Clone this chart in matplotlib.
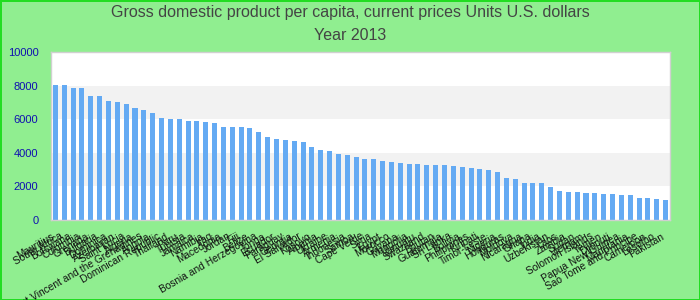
import matplotlib
matplotlib.use("Agg")
import matplotlib.pyplot as plt
import numpy as np

countries = [
    "Mauritius", "South Africa", "Botswana", "Colombia", "Grenada", "Bulgaria",
    "Dominica", "Azerbaijan", "Saint Lucia", "Algeria",
    "Saint Vincent and the Grenadines", "Angola", "Dominican Republic",
    "Thailand", "Peru", "Tunisia", "Jamaica", "Namibia", "Iraq", "Macedonia",
    "Jordan", "Fiji", "Belize", "Bosnia and Herzegovina", "Tonga", "Ecuador",
    "Paraguay", "Georgia", "El Salvador", "Kosovo", "Albania", "Ukraine",
    "Armenia", "Indonesia", "Samoa", "Cape Verde", "Syria", "Egypt",
    "Morocco", "Guyana", "Mongolia", "Vanuatu", "Swaziland", "Bhutan",
    "Guatemala", "Sri Lanka", "Bolivia", "Philippines", "Kiribati",
    "Timor-Leste", "Nigeria", "Honduras", "Moldova", "Nicaragua", "Ghana",
    "India", "Uzbekistan", "Laos", "Zambia", "Sudan", "Vietnam",
    "Solomon Islands", "Yemen", "Djibouti", "Papua New Guinea", "Mauritania",
    "Sao Tome and Principe", "Cameroon", "Lesotho", "Pakistan",
]

gdp_per_capita = [
    8019, 8019, 7841, 7841, 7366, 7366, 7069, 7009, 6890, 6653,
    6534, 6356, 6059, 5999, 5999, 5881, 5881, 5821, 5762, 5524,
    5524, 5524, 5465, 5227, 4930, 4811, 4752, 4693, 4633, 4336,
    4158, 4099, 3920, 3861, 3742, 3623, 3623, 3505, 3445, 3386,
    3326, 3326, 3267, 3267, 3267, 3208, 3148, 3089, 3029, 2970,
    2851, 2495, 2435, 2198, 2198, 2198, 1960, 1723, 1663, 1663,
    1604, 1604, 1544, 1544, 1485, 1485, 1307, 1307, 1247, 1188,
]

y_ticks = [0, 2000, 4000, 6000, 8000, 10000]
title_line1 = "Gross domestic product per capita, current prices Units U.S. dollars"
title_line2 = "Year 2013"

plt.rcParams['font.family'] = ['Liberation Sans', 'DejaVu Sans']

fig = plt.figure(figsize=(7, 3), dpi=100)
fig.patch.set_facecolor('#90ee90')
fig.patch.set_edgecolor('#22dd22')
fig.patch.set_linewidth(2)

ax = fig.add_axes([51/700, 1-220/300, (670-51)/700, (220-52)/300])
ax.set_facecolor('white')

# alternating bands
for i in range(len(y_ticks) - 1):
    if i % 2 == 1:
        ax.axhspan(y_ticks[i], y_ticks[i+1], color='#f2f2f2', zorder=0, lw=0)

x = np.arange(len(countries))
ax.bar(x, gdp_per_capita, width=0.57, color='#64aaf3', zorder=2)

ax.set_xlim(-0.5, len(countries) - 0.5)
ax.set_ylim(0, 10000)
ax.set_yticks(y_ticks)
ax.set_yticklabels([str(v) for v in y_ticks], color='#1010b0', fontsize=8)
ax.set_xticks(x)
ax.set_xticklabels(countries, rotation=30, ha='right', fontsize=7.3, color='#111111')
ax.tick_params(axis='both', length=0)
ax.tick_params(axis='x', pad=8)
ax.tick_params(axis='y', pad=9)

for s in ax.spines.values():
    s.set_color('#d0d0d0')
    s.set_linewidth(1)

fig.text(0.5, 1-13/300, title_line1, ha='center', va='center', fontsize=11.5, color='#444444')
fig.text(0.5, 1-36/300, title_line2, ha='center', va='center', fontsize=11.5, color='#444444')

fig.savefig('out.png', dpi=100, facecolor=fig.get_facecolor(), edgecolor=fig.patch.get_edgecolor())
